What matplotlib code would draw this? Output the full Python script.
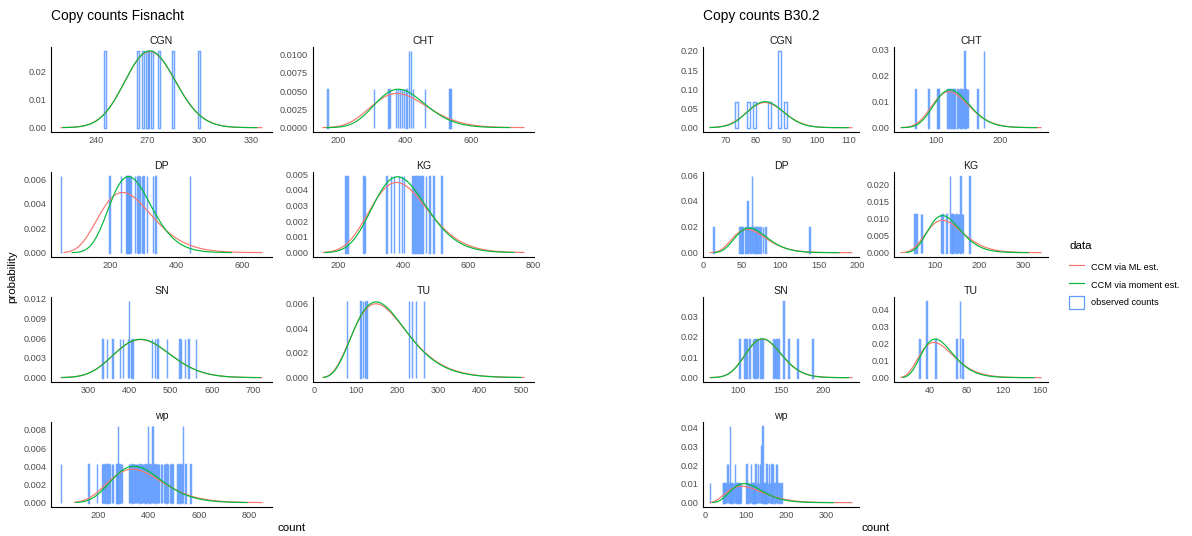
import math
import numpy as np
import matplotlib
matplotlib.use("Agg")
import matplotlib.pyplot as plt
from matplotlib.lines import Line2D
from matplotlib.patches import Patch

plt.rcParams['font.family'] = ['Liberation Sans', 'DejaVu Sans']

RED = "#F8766D"
GREEN = "#00BA38"
BLUE = "#619CFF"
GREY = "#4D4D4D"

groups = ["CGN", "CHT", "DP", "KG", "SN", "TU", "wp"]

# ---- Fisnacht: observed copy counts (a repeated value = stacked observation) ----
fis_cgn = [245, 264, 267, 269, 270, 272, 276, 284, 299]
fis_cht = [167, 307, 350, 355, 372, 378, 384, 390, 396, 404, 412, 412, 417, 417,
           423, 460, 533, 536]
fis_dp = [51, 198, 232, 249, 252, 255, 258, 262, 276, 281, 286, 291, 296, 301,
          311, 330, 337, 443]
fis_kg = [222, 228, 278, 282, 348, 362, 372, 386, 396, 402, 428, 434, 440, 446,
          452, 458, 470, 480, 492, 517]
fis_sn = [334, 345, 358, 377, 384, 396, 399, 399, 403, 407, 455, 461, 468, 491,
          521, 525, 535, 543, 562]
fis_tu = [78, 111, 117, 122, 126, 229, 236, 245, 264]
fis_wp = [55, 163, 197, 217, 222, 229, 234, 242, 249, 255, 261, 274, 278, 281, 281,
          286, 291, 296, 322, 327, 332, 337, 342, 346, 350, 355, 359, 364, 369, 373,
          378, 383, 388, 393, 399, 399, 404, 409, 413, 413, 417, 417, 422, 428, 433,
          438, 443, 449, 454, 460, 466, 471, 477, 486, 491, 498, 515, 521, 527, 533,
          537, 537, 546, 566]
# probability of one observation in each panel
fis_unit = [0.0274, 0.00526, 0.00626, 0.0049, 0.00585, 0.0062, 0.00422]
# fitted CCM curves: (mean, sd, from, to)
fis_ml = [(272, 14.7, 220, 336), (395, 87, 154, 757), (265, 85, 60, 661),
          (400, 91, 154, 770), (438, 69.5, 234, 722), (178, 72, 21, 507),
          (371, 113, 108, 849)]
fis_mm = [(272, 14.6, 221, 333), (395, 77, 165, 714), (272, 66, 85, 568),
          (400, 84, 160, 739), (438, 69, 236, 718), (177, 70, 22, 500),
          (372, 103, 114, 790)]
fis_xticks = [[240, 270, 300, 330], [200, 400, 600], [200, 400, 600],
              [200, 400, 600, 800], [300, 400, 500, 600, 700],
              [0, 100, 200, 300, 400, 500], [200, 400, 600, 800]]
fis_yticks = [["0.00", "0.01", "0.02"],
              ["0.0000", "0.0025", "0.0050", "0.0075", "0.0100"],
              ["0.000", "0.002", "0.004", "0.006"],
              ["0.000", "0.001", "0.002", "0.003", "0.004", "0.005"],
              ["0.000", "0.003", "0.006", "0.009", "0.012"],
              ["0.000", "0.002", "0.004", "0.006"],
              ["0.000", "0.002", "0.004", "0.006", "0.008"]]

# ---- B30.2 ----
b30_cgn = [73, 77, 79, 84, 87, 87, 87, 89]
b30_cht = [67, 87, 101, 103, 117, 120, 123, 126, 128, 132, 135, 137, 139, 141,
           143, 143, 145, 147, 149, 164, 174, 174]
b30_dp = [13, 47, 49, 51, 54, 57, 57, 59, 61, 63, 63, 63, 65, 67, 69, 71, 74, 77,
          80, 137]
b30_kg = [53, 57, 68, 70, 113, 116, 125, 133, 133, 136, 139, 142, 145, 148, 151,
          154, 157, 157, 160, 163, 177, 177]
b30_sn = [101, 107, 109, 113, 117, 119, 121, 123, 126, 128, 141, 143, 145, 147,
          153, 153, 159, 169, 187]
b30_tu = [28, 35, 35, 45, 68, 72, 72, 75]
b30_wp = [12, 43, 45, 47, 49, 51, 53, 53, 56, 56, 58, 60, 60, 60, 60, 62, 64, 66,
          68, 70, 73, 73, 75, 77, 80, 82, 84, 86, 88, 101, 101, 104, 107, 110, 113,
          113, 116, 119, 121, 124, 124, 127, 130, 130, 132, 134, 134, 137, 137, 137,
          139, 141, 141, 141, 141, 144, 146, 148, 151, 151, 154, 157, 157, 160, 163,
          163, 165, 167, 167, 170, 174, 174, 177, 177, 180, 184, 188]
b30_unit = [0.0667, 0.01475, 0.0198, 0.0113, 0.0188, 0.0227, 0.0102]
b30_ml = [(83.3, 6.1, 65, 111.2), (126.5, 29.5, 45, 263), (65.5, 23.5, 9, 193),
          (131, 44, 23, 339), (132, 21.4, 67, 234), (52, 20.5, 8, 161),
          (112, 50, 12, 362)]
b30_mm = [(83.3, 5.9, 65, 110), (127.7, 28, 46, 256), (67, 22, 15, 176),
          (128, 38, 35, 310), (132, 21.2, 68, 230), (52, 18.5, 10, 153),
          (112, 42, 18, 316)]
b30_xticks = [[70, 80, 90, 100, 110], [100, 200], [0, 50, 100, 150, 200],
              [100, 200, 300], [100, 150, 200], [40, 80, 120, 160],
              [0, 100, 200, 300]]
b30_yticks = [["0.00", "0.05", "0.10", "0.15", "0.20"],
              ["0.00", "0.01", "0.02", "0.03"],
              ["0.00", "0.02", "0.04", "0.06"],
              ["0.000", "0.005", "0.010", "0.015", "0.020"],
              ["0.00", "0.01", "0.02", "0.03"],
              ["0.00", "0.01", "0.02", "0.03", "0.04"],
              ["0.00", "0.01", "0.02", "0.03", "0.04"]]

W, H = 1192, 536
fig = plt.figure(figsize=(W / 100, H / 100), dpi=100)

rows = [(47, 131.5), (172, 256.5), (297, 381.5), (422, 506.5)]
left_cols = [(51, 272), (313, 534)]
right_cols = [(703, 859), (894, 1048)]


def ccm_density(x, mean, sd):
    k = (mean / sd) ** 2
    theta = sd ** 2 / mean
    return np.exp((k - 1) * np.log(x) - x / theta - math.lgamma(k) - k * np.log(theta))


def draw_panel(ax, name, counts, unit, ml, mm, xt, yt):
    for (m, s, lo, hi), col in ((ml, RED), (mm, GREEN)):
        xs = np.linspace(lo, hi, 400)
        ax.plot(xs, ccm_density(xs, m, s), color=col, lw=0.85)
    vals, n = np.unique(counts, return_counts=True)
    ax.bar(vals, n * unit, width=1, align='edge', fill=False,
           edgecolor=BLUE, lw=1.05, alpha=0.9)
    ax.use_sticky_edges = False
    ax.margins(x=0.05, y=0.05)
    ax.set_xticks(xt)
    ax.set_xticklabels([str(v) for v in xt])
    ax.set_yticks([float(v) for v in yt])
    ax.set_yticklabels(yt)
    ax.tick_params(length=0, labelsize=6.6, labelcolor=GREY, pad=3.5)
    for sp in ("top", "right"):
        ax.spines[sp].set_visible(False)
    for sp in ("left", "bottom"):
        ax.spines[sp].set_color("black")
        ax.spines[sp].set_linewidth(0.8)
    ax.set_title(name, fontsize=7.6, pad=2.5, color="#1A1A1A")


def block(cols, data, units, mls, mms, xts, yts):
    for i, name in enumerate(groups):
        (y0, y1), (x0, x1) = rows[i // 2], cols[i % 2]
        ax = fig.add_axes([x0 / W, 1 - y1 / H, (x1 - x0) / W, (y1 - y0) / H])
        draw_panel(ax, name, data[i], units[i], mls[i], mms[i], xts[i], yts[i])


block(left_cols, [fis_cgn, fis_cht, fis_dp, fis_kg, fis_sn, fis_tu, fis_wp],
      fis_unit, fis_ml, fis_mm, fis_xticks, fis_yticks)
block(right_cols, [b30_cgn, b30_cht, b30_dp, b30_kg, b30_sn, b30_tu, b30_wp],
      b30_unit, b30_ml, b30_mm, b30_xticks, b30_yticks)

fig.text(51 / W, 1 - 16 / H, "Copy counts Fisnacht", fontsize=9.9, va="center")
fig.text(703 / W, 1 - 16 / H, "Copy counts B30.2", fontsize=9.9, va="center")
fig.text(12 / W, 1 - 277 / H, "probability", fontsize=8.25, rotation=90,
         ha="center", va="center")
fig.text(292 / W, 1 - 528 / H, "count", fontsize=8.25, ha="center", va="center")
fig.text(876 / W, 1 - 528 / H, "count", fontsize=8.25, ha="center", va="center")

handles = [Line2D([], [], color=RED, lw=0.85),
           Line2D([], [], color=GREEN, lw=0.85),
           Patch(facecolor="none", edgecolor=BLUE, lw=0.9)]
labels = ["CCM via ML est.", "CCM via moment est.", "observed counts"]
leg = fig.legend(handles, labels, title="data", loc="upper left",
                 bbox_to_anchor=(1069 / W, 1 - 241 / H), frameon=False,
                 fontsize=6.6, title_fontsize=8.25, handlelength=1.6,
                 handleheight=1.8, labelspacing=0.5, handletextpad=0.8,
                 borderpad=0, borderaxespad=0)
leg._legend_box.align = "left"
leg._legend_box.sep = 7

fig.savefig("out.png", dpi=100)
